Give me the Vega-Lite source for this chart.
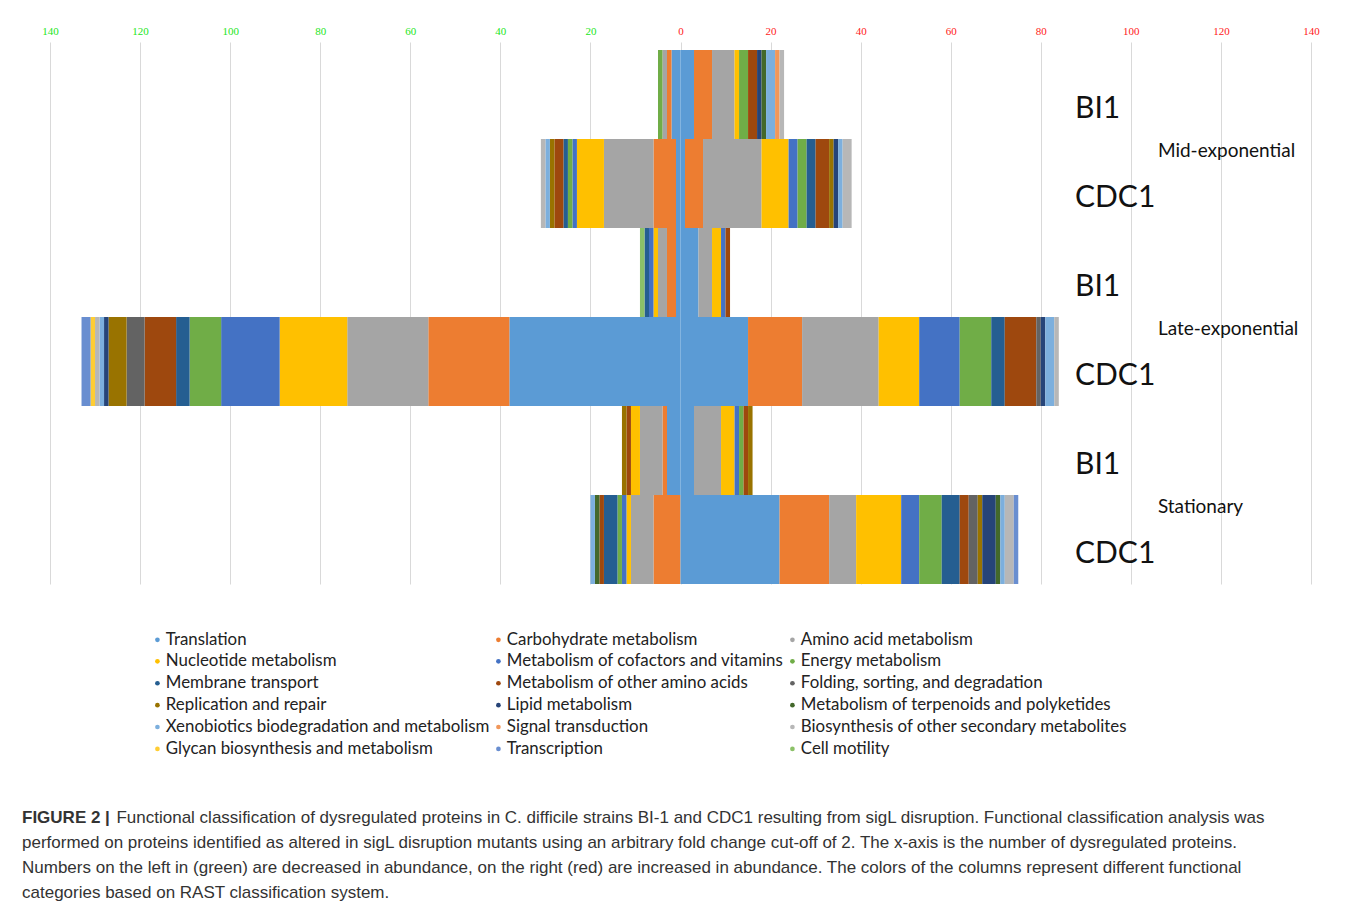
{
  "$schema": "https://vega.github.io/schema/vega-lite/v6.json",
  "autosize": {"type": "none"},
  "padding": {"left": 50, "top": 42, "right": 47, "bottom": 328},
  "width": 1261,
  "height": 542,
  "background": "white",
  "config": {"view": {"stroke": null}},
  "title": {
    "text": "FIGURE 2 |",
    "subtitle": [
      "\u200b\u00a0\u00a0\u00a0\u00a0\u00a0\u00a0\u00a0\u00a0\u00a0\u00a0\u00a0\u00a0\u00a0\u00a0\u00a0\u00a0\u00a0\u00a0\u00a0\u00a0Functional classification of dysregulated proteins in C. difficile strains BI-1 and CDC1 resulting from sigL disruption. Functional classification analysis was",
      "performed on proteins identified as altered in sigL disruption mutants using an arbitrary fold change cut-off of 2. The x-axis is the number of dysregulated proteins.",
      "Numbers on the left in (green) are decreased in abundance, on the right (red) are increased in abundance. The colors of the columns represent different functional",
      "categories based on RAST classification system."
    ],
    "orient": "bottom",
    "anchor": "start",
    "frame": "group",
    "offset": 52,
    "dx": -28,
    "font": "Liberation Sans",
    "fontSize": 17,
    "fontWeight": "bold",
    "color": "#333333",
    "subtitleFont": "Liberation Sans",
    "subtitleFontSize": 17,
    "subtitleColor": "#333333",
    "subtitleLineHeight": 25,
    "subtitlePadding": -17
  },
  "datasets": {
    "segs": [
      {"row": "Mid BI1", "cat": "Translation", "k": 1, "value": -2},
      {"row": "Mid BI1", "cat": "Carbohydrate metabolism", "k": 2, "value": -1},
      {"row": "Mid BI1", "cat": "Amino acid metabolism", "k": 3, "value": -1},
      {"row": "Mid BI1", "cat": "Energy metabolism", "k": 6, "value": -1},
      {"row": "Mid BI1", "cat": "Translation", "k": 1, "value": 3},
      {"row": "Mid BI1", "cat": "Carbohydrate metabolism", "k": 2, "value": 4},
      {"row": "Mid BI1", "cat": "Amino acid metabolism", "k": 3, "value": 5},
      {"row": "Mid BI1", "cat": "Nucleotide metabolism", "k": 4, "value": 1},
      {"row": "Mid BI1", "cat": "Energy metabolism", "k": 6, "value": 2},
      {"row": "Mid BI1", "cat": "Metabolism of other amino acids", "k": 8, "value": 2},
      {"row": "Mid BI1", "cat": "Lipid metabolism", "k": 11, "value": 1},
      {"row": "Mid BI1", "cat": "Metabolism of terpenoids and polyketides", "k": 12, "value": 1},
      {"row": "Mid BI1", "cat": "Xenobiotics biodegradation and metabolism", "k": 13, "value": 2},
      {"row": "Mid BI1", "cat": "Signal transduction", "k": 14, "value": 1},
      {"row": "Mid BI1", "cat": "Biosynthesis of other secondary metabolites", "k": 15, "value": 1},

      {"row": "Mid CDC1", "cat": "Translation", "k": 1, "value": -1},
      {"row": "Mid CDC1", "cat": "Carbohydrate metabolism", "k": 2, "value": -5},
      {"row": "Mid CDC1", "cat": "Amino acid metabolism", "k": 3, "value": -11},
      {"row": "Mid CDC1", "cat": "Nucleotide metabolism", "k": 4, "value": -6},
      {"row": "Mid CDC1", "cat": "Metabolism of cofactors and vitamins", "k": 5, "value": -1},
      {"row": "Mid CDC1", "cat": "Energy metabolism", "k": 6, "value": -1},
      {"row": "Mid CDC1", "cat": "Membrane transport", "k": 7, "value": -1},
      {"row": "Mid CDC1", "cat": "Metabolism of other amino acids", "k": 8, "value": -2},
      {"row": "Mid CDC1", "cat": "Replication and repair", "k": 10, "value": -1},
      {"row": "Mid CDC1", "cat": "Xenobiotics biodegradation and metabolism", "k": 13, "value": -1},
      {"row": "Mid CDC1", "cat": "Biosynthesis of other secondary metabolites", "k": 15, "value": -1},
      {"row": "Mid CDC1", "cat": "Translation", "k": 1, "value": 1},
      {"row": "Mid CDC1", "cat": "Carbohydrate metabolism", "k": 2, "value": 4},
      {"row": "Mid CDC1", "cat": "Amino acid metabolism", "k": 3, "value": 13},
      {"row": "Mid CDC1", "cat": "Nucleotide metabolism", "k": 4, "value": 6},
      {"row": "Mid CDC1", "cat": "Metabolism of cofactors and vitamins", "k": 5, "value": 2},
      {"row": "Mid CDC1", "cat": "Energy metabolism", "k": 6, "value": 2},
      {"row": "Mid CDC1", "cat": "Membrane transport", "k": 7, "value": 2},
      {"row": "Mid CDC1", "cat": "Metabolism of other amino acids", "k": 8, "value": 3},
      {"row": "Mid CDC1", "cat": "Replication and repair", "k": 10, "value": 1},
      {"row": "Mid CDC1", "cat": "Lipid metabolism", "k": 11, "value": 1},
      {"row": "Mid CDC1", "cat": "Xenobiotics biodegradation and metabolism", "k": 13, "value": 1},
      {"row": "Mid CDC1", "cat": "Biosynthesis of other secondary metabolites", "k": 15, "value": 2},

      {"row": "Late BI1", "cat": "Translation", "k": 1, "value": -1},
      {"row": "Late BI1", "cat": "Carbohydrate metabolism", "k": 2, "value": -2},
      {"row": "Late BI1", "cat": "Amino acid metabolism", "k": 3, "value": -2},
      {"row": "Late BI1", "cat": "Nucleotide metabolism", "k": 4, "value": -1},
      {"row": "Late BI1", "cat": "Metabolism of cofactors and vitamins", "k": 5, "value": -1},
      {"row": "Late BI1", "cat": "Membrane transport", "k": 7, "value": -1},
      {"row": "Late BI1", "cat": "Cell motility", "k": 18, "value": -1},
      {"row": "Late BI1", "cat": "Translation", "k": 1, "value": 4},
      {"row": "Late BI1", "cat": "Amino acid metabolism", "k": 3, "value": 3},
      {"row": "Late BI1", "cat": "Nucleotide metabolism", "k": 4, "value": 2},
      {"row": "Late BI1", "cat": "Metabolism of cofactors and vitamins", "k": 5, "value": 1},
      {"row": "Late BI1", "cat": "Metabolism of other amino acids", "k": 8, "value": 1},

      {"row": "Late CDC1", "cat": "Translation", "k": 1, "value": -38},
      {"row": "Late CDC1", "cat": "Carbohydrate metabolism", "k": 2, "value": -18},
      {"row": "Late CDC1", "cat": "Amino acid metabolism", "k": 3, "value": -18},
      {"row": "Late CDC1", "cat": "Nucleotide metabolism", "k": 4, "value": -15},
      {"row": "Late CDC1", "cat": "Metabolism of cofactors and vitamins", "k": 5, "value": -13},
      {"row": "Late CDC1", "cat": "Energy metabolism", "k": 6, "value": -7},
      {"row": "Late CDC1", "cat": "Membrane transport", "k": 7, "value": -3},
      {"row": "Late CDC1", "cat": "Metabolism of other amino acids", "k": 8, "value": -7},
      {"row": "Late CDC1", "cat": "Folding, sorting, and degradation", "k": 9, "value": -4},
      {"row": "Late CDC1", "cat": "Replication and repair", "k": 10, "value": -4},
      {"row": "Late CDC1", "cat": "Lipid metabolism", "k": 11, "value": -1},
      {"row": "Late CDC1", "cat": "Xenobiotics biodegradation and metabolism", "k": 13, "value": -1},
      {"row": "Late CDC1", "cat": "Biosynthesis of other secondary metabolites", "k": 15, "value": -1},
      {"row": "Late CDC1", "cat": "Glycan biosynthesis and metabolism", "k": 16, "value": -1},
      {"row": "Late CDC1", "cat": "Transcription", "k": 17, "value": -2},
      {"row": "Late CDC1", "cat": "Translation", "k": 1, "value": 15},
      {"row": "Late CDC1", "cat": "Carbohydrate metabolism", "k": 2, "value": 12},
      {"row": "Late CDC1", "cat": "Amino acid metabolism", "k": 3, "value": 17},
      {"row": "Late CDC1", "cat": "Nucleotide metabolism", "k": 4, "value": 9},
      {"row": "Late CDC1", "cat": "Metabolism of cofactors and vitamins", "k": 5, "value": 9},
      {"row": "Late CDC1", "cat": "Energy metabolism", "k": 6, "value": 7},
      {"row": "Late CDC1", "cat": "Membrane transport", "k": 7, "value": 3},
      {"row": "Late CDC1", "cat": "Metabolism of other amino acids", "k": 8, "value": 7},
      {"row": "Late CDC1", "cat": "Folding, sorting, and degradation", "k": 9, "value": 1},
      {"row": "Late CDC1", "cat": "Lipid metabolism", "k": 11, "value": 1},
      {"row": "Late CDC1", "cat": "Xenobiotics biodegradation and metabolism", "k": 13, "value": 2},
      {"row": "Late CDC1", "cat": "Biosynthesis of other secondary metabolites", "k": 15, "value": 1},

      {"row": "Stat BI1", "cat": "Translation", "k": 1, "value": -3},
      {"row": "Stat BI1", "cat": "Carbohydrate metabolism", "k": 2, "value": -1},
      {"row": "Stat BI1", "cat": "Amino acid metabolism", "k": 3, "value": -5},
      {"row": "Stat BI1", "cat": "Nucleotide metabolism", "k": 4, "value": -2},
      {"row": "Stat BI1", "cat": "Metabolism of other amino acids", "k": 8, "value": -1},
      {"row": "Stat BI1", "cat": "Replication and repair", "k": 10, "value": -1},
      {"row": "Stat BI1", "cat": "Translation", "k": 1, "value": 3},
      {"row": "Stat BI1", "cat": "Amino acid metabolism", "k": 3, "value": 6},
      {"row": "Stat BI1", "cat": "Nucleotide metabolism", "k": 4, "value": 3},
      {"row": "Stat BI1", "cat": "Metabolism of cofactors and vitamins", "k": 5, "value": 1},
      {"row": "Stat BI1", "cat": "Energy metabolism", "k": 6, "value": 1},
      {"row": "Stat BI1", "cat": "Metabolism of other amino acids", "k": 8, "value": 1},
      {"row": "Stat BI1", "cat": "Replication and repair", "k": 10, "value": 1},

      {"row": "Stat CDC1", "cat": "Carbohydrate metabolism", "k": 2, "value": -6},
      {"row": "Stat CDC1", "cat": "Amino acid metabolism", "k": 3, "value": -5},
      {"row": "Stat CDC1", "cat": "Nucleotide metabolism", "k": 4, "value": -1},
      {"row": "Stat CDC1", "cat": "Metabolism of cofactors and vitamins", "k": 5, "value": -1},
      {"row": "Stat CDC1", "cat": "Energy metabolism", "k": 6, "value": -1},
      {"row": "Stat CDC1", "cat": "Membrane transport", "k": 7, "value": -3},
      {"row": "Stat CDC1", "cat": "Metabolism of other amino acids", "k": 8, "value": -1},
      {"row": "Stat CDC1", "cat": "Metabolism of terpenoids and polyketides", "k": 12, "value": -1},
      {"row": "Stat CDC1", "cat": "Xenobiotics biodegradation and metabolism", "k": 13, "value": -1},
      {"row": "Stat CDC1", "cat": "Translation", "k": 1, "value": 22},
      {"row": "Stat CDC1", "cat": "Carbohydrate metabolism", "k": 2, "value": 11},
      {"row": "Stat CDC1", "cat": "Amino acid metabolism", "k": 3, "value": 6},
      {"row": "Stat CDC1", "cat": "Nucleotide metabolism", "k": 4, "value": 10},
      {"row": "Stat CDC1", "cat": "Metabolism of cofactors and vitamins", "k": 5, "value": 4},
      {"row": "Stat CDC1", "cat": "Energy metabolism", "k": 6, "value": 5},
      {"row": "Stat CDC1", "cat": "Membrane transport", "k": 7, "value": 4},
      {"row": "Stat CDC1", "cat": "Metabolism of other amino acids", "k": 8, "value": 2},
      {"row": "Stat CDC1", "cat": "Folding, sorting, and degradation", "k": 9, "value": 2},
      {"row": "Stat CDC1", "cat": "Replication and repair", "k": 10, "value": 1},
      {"row": "Stat CDC1", "cat": "Lipid metabolism", "k": 11, "value": 3},
      {"row": "Stat CDC1", "cat": "Metabolism of terpenoids and polyketides", "k": 12, "value": 1},
      {"row": "Stat CDC1", "cat": "Xenobiotics biodegradation and metabolism", "k": 13, "value": 1},
      {"row": "Stat CDC1", "cat": "Biosynthesis of other secondary metabolites", "k": 15, "value": 2},
      {"row": "Stat CDC1", "cat": "Transcription", "k": 17, "value": 1}
    ],
    "strains": [
      {"row": "Mid BI1", "label": "BI1"},
      {"row": "Mid CDC1", "label": "CDC1"},
      {"row": "Late BI1", "label": "BI1"},
      {"row": "Late CDC1", "label": "CDC1"},
      {"row": "Stat BI1", "label": "BI1"},
      {"row": "Stat CDC1", "label": "CDC1"}
    ],
    "phases": [
      {"row": "Mid CDC1", "label": "Mid-exponential"},
      {"row": "Late CDC1", "label": "Late-exponential"},
      {"row": "Stat CDC1", "label": "Stationary"}
    ]
  },
  "layer": [
    {
      "data": {"name": "segs"},
      "mark": {"type": "bar"},
      "encoding": {
        "y": {
          "field": "row", "type": "nominal",
          "sort": ["Mid BI1", "Mid CDC1", "Late BI1", "Late CDC1", "Stat BI1", "Stat CDC1"],
          "axis": null,
          "scale": {"paddingInner": 0, "paddingOuter": 0.045, "align": 1}
        },
        "x": {
          "field": "value", "type": "quantitative", "stack": "zero",
          "scale": {"domain": [-140, 140], "nice": false, "zero": false},
          "axis": {
            "orient": "top",
            "values": [-140, -120, -100, -80, -60, -40, -20, 0, 20, 40, 60, 80, 100, 120, 140],
            "labelExpr": "abs(datum.value)",
            "title": null,
            "grid": true,
            "gridColor": "#d9d9d9",
            "gridWidth": 1,
            "domain": false,
            "ticks": false,
            "labelFlush": false,
            "labelOverlap": false,
            "labelPadding": 6,
            "labelFont": "Liberation Sans Narrow",
            "labelFontSize": 11,
            "labelColor": {"condition": {"test": "datum.value < 0", "value": "#22e622"}, "value": "#ff2020"}
          }
        },
        "color": {
          "field": "cat", "type": "nominal",
          "scale": {
            "domain": [
              "Translation", "Carbohydrate metabolism", "Amino acid metabolism",
              "Nucleotide metabolism", "Metabolism of cofactors and vitamins", "Energy metabolism",
              "Membrane transport", "Metabolism of other amino acids", "Folding, sorting, and degradation",
              "Replication and repair", "Lipid metabolism", "Metabolism of terpenoids and polyketides",
              "Xenobiotics biodegradation and metabolism", "Signal transduction", "Biosynthesis of other secondary metabolites",
              "Glycan biosynthesis and metabolism", "Transcription", "Cell motility"
            ],
            "range": [
              "#5B9BD5", "#ED7D31", "#A5A5A5",
              "#FFC000", "#4472C4", "#70AD47",
              "#255E91", "#9E480E", "#636363",
              "#997300", "#264478", "#43682B",
              "#7CAFDD", "#F1975A", "#B7B7B7",
              "#FFCD33", "#698ED0", "#8CC168"
            ]
          },
          "legend": {
            "orient": "none",
            "legendX": 99,
            "legendY": 589,
            "columns": 3,
            "direction": "horizontal",
            "title": null,
            "symbolType": "circle",
            "symbolSize": 22,
            "symbolStrokeWidth": 0,
            "labelFont": "Lato",
            "labelFontSize": 16.85,
            "labelColor": "#222222",
            "labelLimit": 600,
            "labelOffset": 0,
            "columnPadding": -1,
            "rowPadding": 3.9,
            "gridAlign": "each"
          }
        },
        "order": {"field": "k", "type": "quantitative"}
      }
    },
    {
      "mark": {"type": "rule", "color": "white", "strokeWidth": 2},
      "encoding": {"x": {"datum": 0}}
    },
    {
      "data": {"name": "strains"},
      "mark": {"type": "text", "align": "left", "baseline": "middle", "dy": 14, "font": "Lato", "fontSize": 30, "color": "#111111"},
      "encoding": {
        "y": {"field": "row", "type": "nominal", "sort": ["Mid BI1", "Mid CDC1", "Late BI1", "Late CDC1", "Stat BI1", "Stat CDC1"]},
        "x": {"datum": 87.6},
        "text": {"field": "label"}
      }
    },
    {
      "data": {"name": "phases"},
      "mark": {"type": "text", "align": "left", "baseline": "middle", "dy": 12, "font": "Lato", "fontSize": 19, "color": "#111111"},
      "encoding": {
        "y": {"field": "row", "type": "nominal", "bandPosition": 0, "sort": ["Mid BI1", "Mid CDC1", "Late BI1", "Late CDC1", "Stat BI1", "Stat CDC1"]},
        "x": {"datum": 106},
        "text": {"field": "label"}
      }
    }
  ]
}
